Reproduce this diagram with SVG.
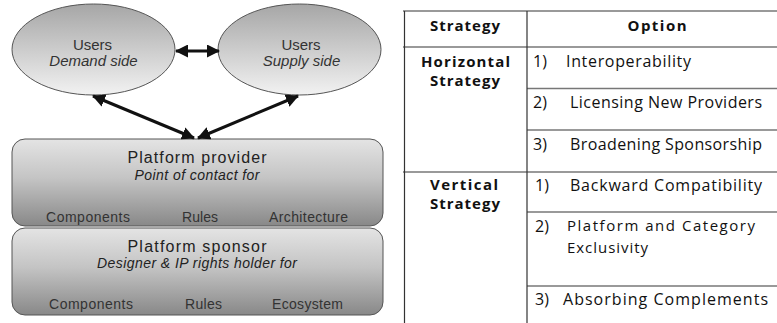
<svg xmlns="http://www.w3.org/2000/svg" width="777" height="323" viewBox="0 0 777 323">
  <defs>
    <linearGradient id="gEllipse" x1="0" y1="0" x2="0" y2="1">
      <stop offset="0" stop-color="#a6a6a6"/>
      <stop offset="1" stop-color="#f2f2f2"/>
    </linearGradient>
    <linearGradient id="gBox" x1="0" y1="0" x2="0" y2="1">
      <stop offset="0" stop-color="#e4e4e4"/>
      <stop offset="0.45" stop-color="#c4c4c4"/>
      <stop offset="1" stop-color="#888888"/>
    </linearGradient>
    <marker id="head" viewBox="0 0 13 13" refX="12" refY="6.5" markerWidth="13" markerHeight="13" markerUnits="userSpaceOnUse" orient="auto-start-reverse">
      <path d="M0,0 L13,6.5 L0,13 Z" fill="#111"/>
    </marker>
    <style>
      .shape { stroke: #555; stroke-width: 1; }
      .ttl { font-family: "Liberation Sans", Arial, sans-serif; font-size: 16px; fill: #222; text-anchor: middle; }
      .sub { font-family: "Liberation Sans", Arial, sans-serif; font-size: 14px; font-style: italic; fill: #222; text-anchor: middle; }
      .lbl { font-family: "Liberation Sans", Arial, sans-serif; font-size: 14px; fill: #333; text-anchor: middle; }
      .usr { font-family: "Liberation Sans", Arial, sans-serif; font-size: 15px; fill: #333; text-anchor: middle; }
      .usr-i { font-family: "Liberation Sans", Arial, sans-serif; font-size: 15px; font-style: italic; fill: #333; text-anchor: middle; }
      .conn { stroke: #111; stroke-width: 3; fill: none; marker-start: url(#head); marker-end: url(#head); }
      .grid-h { stroke: #777; stroke-width: 1.5; }
      .grid-v { stroke: #333; stroke-width: 1.2; }
      .th { font-family: "Open Sans", "Noto Sans CJK KR", sans-serif; font-size: 15px; font-weight: bold; fill: #111; text-anchor: middle; }
      .td { font-family: "Open Sans", "Noto Sans CJK KR", sans-serif; font-size: 16px; fill: #111; }
      .td-s { font-size: 15px; }
    </style>
  </defs>

  <rect width="777" height="323" fill="#ffffff"/>

  <!-- users, demand side -->
  <g id="users-demand">
    <ellipse class="shape" cx="93.5" cy="49.5" rx="81.5" ry="45.5" fill="url(#gEllipse)"/>
    <text class="usr" x="92.5" y="50">Users</text>
    <text class="usr-i" x="93.5" y="66">Demand side</text>
  </g>

  <!-- users, supply side -->
  <g id="users-supply">
    <ellipse class="shape" cx="299.5" cy="49.5" rx="81.5" ry="45.5" fill="url(#gEllipse)"/>
    <text class="usr" x="301" y="50">Users</text>
    <text class="usr-i" x="301.5" y="66">Supply side</text>
  </g>

  <!-- platform provider layer -->
  <g id="platform-provider">
    <rect class="shape" x="12" y="139" width="371" height="87" rx="13" ry="13" fill="url(#gBox)"/>
    <text class="ttl" x="197" y="163" textLength="139">Platform provider</text>
    <text class="sub" x="197" y="180" textLength="125">Point of contact for</text>
    <text class="lbl" x="88" y="222" textLength="84">Components</text>
    <text class="lbl" x="200" y="222" textLength="36">Rules</text>
    <text class="lbl" x="308.5" y="222" textLength="79">Architecture</text>
  </g>

  <!-- platform sponsor layer -->
  <g id="platform-sponsor">
    <rect class="shape" x="12" y="228" width="371" height="87" rx="13" ry="13" fill="url(#gBox)"/>
    <text class="ttl" x="197" y="252" textLength="139">Platform sponsor</text>
    <text class="sub" x="197" y="268" textLength="200">Designer &amp; IP rights holder for</text>
    <text class="lbl" x="91" y="309" textLength="84">Components</text>
    <text class="lbl" x="203.5" y="309" textLength="37">Rules</text>
    <text class="lbl" x="307.5" y="309" textLength="71">Ecosystem</text>
  </g>

  <!-- connectors -->
  <g id="connectors">
    <line class="conn" x1="176" y1="51" x2="219" y2="51"/>
    <line class="conn" x1="93" y1="96" x2="194" y2="138"/>
    <line class="conn" x1="298" y1="96" x2="198" y2="138"/>
  </g>

  <!-- strategy / option table -->
  <g id="table">
    <line class="grid-h" x1="403" y1="11" x2="777" y2="11" stroke-width="2"/>
    <line class="grid-h" x1="403" y1="47" x2="777" y2="47"/>
    <line class="grid-h" x1="527" y1="88.5" x2="777" y2="88.5"/>
    <line class="grid-h" x1="527" y1="130" x2="777" y2="130"/>
    <line class="grid-h" x1="403" y1="172" x2="777" y2="172"/>
    <line class="grid-h" x1="527" y1="212" x2="777" y2="212"/>
    <line class="grid-h" x1="527" y1="286" x2="777" y2="286"/>
    <line class="grid-v" x1="404.5" y1="11" x2="404.5" y2="323"/>
    <line class="grid-v" x1="527" y1="11" x2="527" y2="323"/>

    <text class="th" x="465" y="31" textLength="70">Strategy</text>
    <text class="th" x="657" y="31" textLength="59">Option</text>

    <text class="th" x="465.5" y="67" textLength="89">Horizontal</text>
    <text class="th" x="465" y="86" textLength="70">Strategy</text>

    <text class="td" x="533" y="67">1)</text>
    <text class="td" x="566" y="67" textLength="125">Interoperability</text>
    <text class="td" x="533" y="108">2)</text>
    <text class="td" x="570" y="108" textLength="192">Licensing New Providers</text>
    <text class="td" x="533" y="150">3)</text>
    <text class="td" x="570" y="150" textLength="192">Broadening Sponsorship</text>

    <text class="th" x="464" y="190" textLength="68">Vertical</text>
    <text class="th" x="465" y="209" textLength="70">Strategy</text>

    <text class="td" x="535" y="191">1)</text>
    <text class="td" x="570" y="191" textLength="192">Backward Compatibility</text>
    <text class="td" x="535" y="232">2)</text>
    <text class="td td-s" x="567" y="231" textLength="188">Platform and Category</text>
    <text class="td td-s" x="567" y="253" textLength="81">Exclusivity</text>
    <text class="td" x="535" y="305">3)</text>
    <text class="td" x="563" y="305" textLength="205">Absorbing Complements</text>
  </g>
</svg>
